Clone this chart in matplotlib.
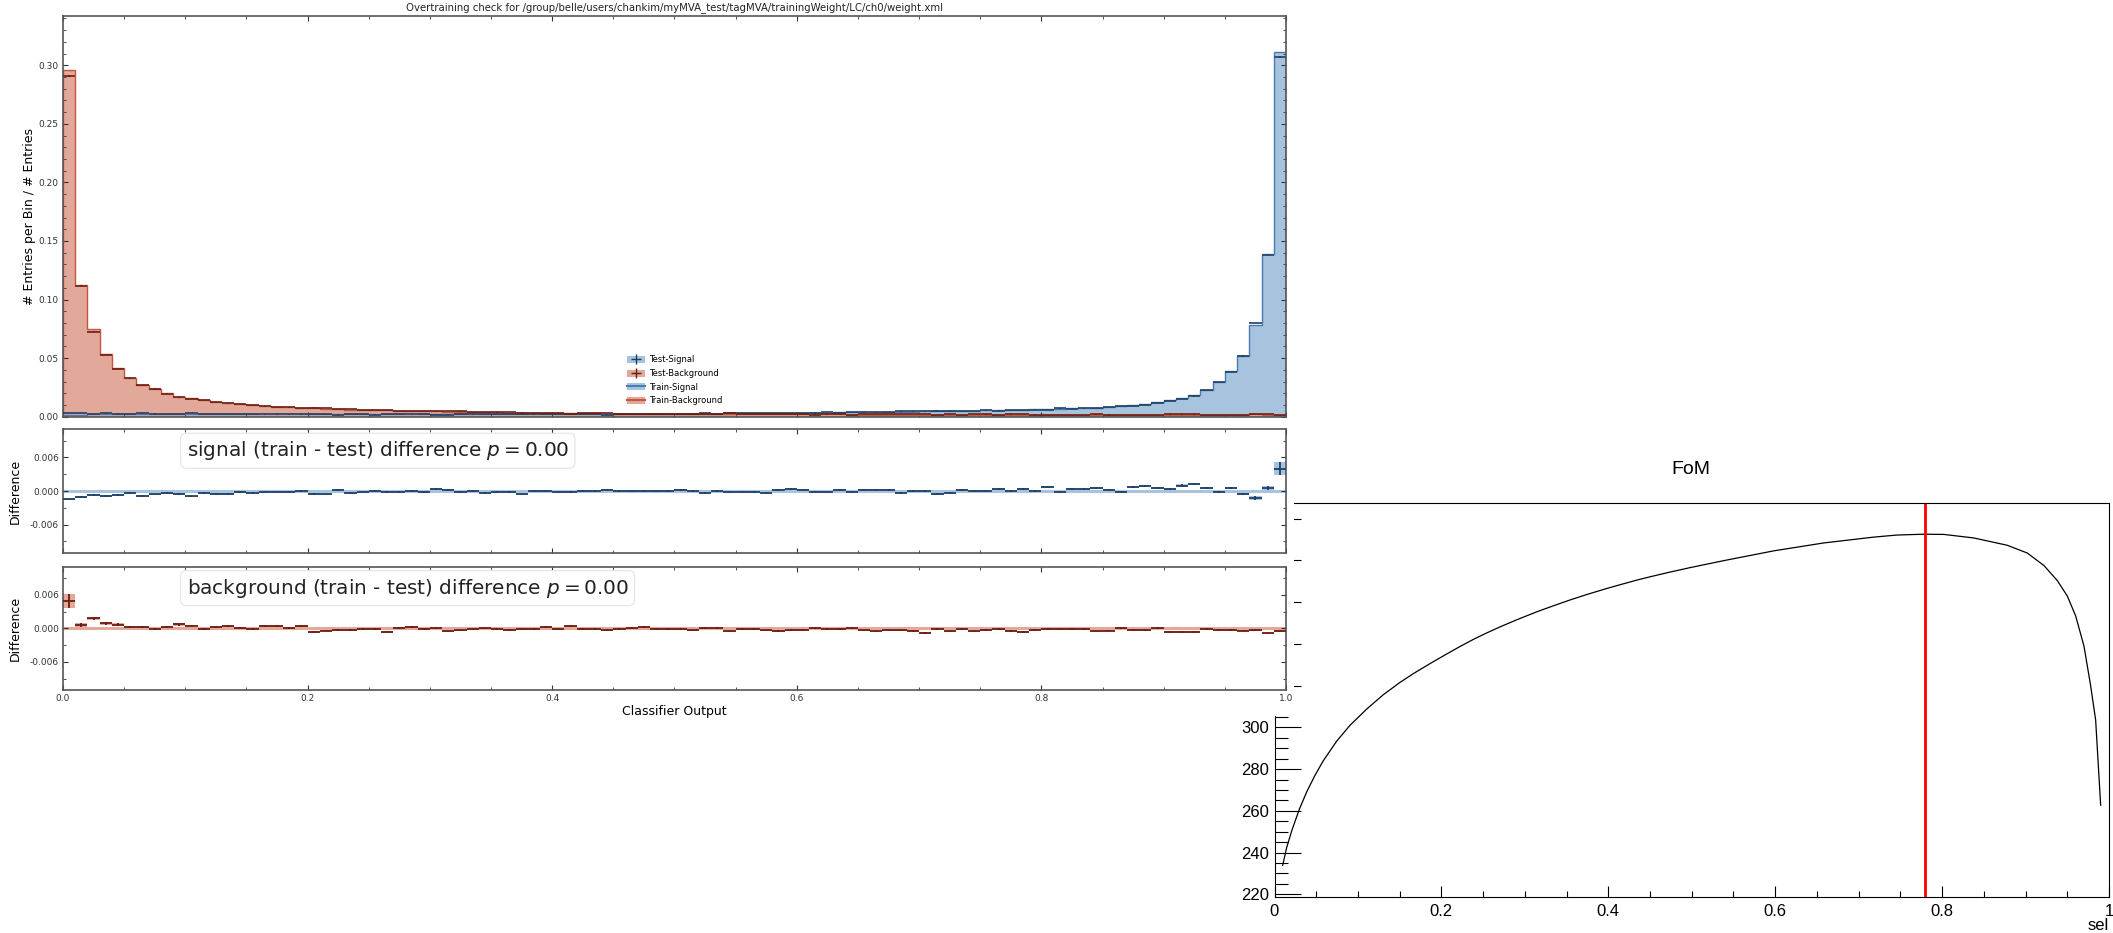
import numpy as np
import matplotlib
matplotlib.use("Agg")
import matplotlib.pyplot as plt
from matplotlib.patches import Rectangle, Patch
from matplotlib.lines import Line2D
from matplotlib.ticker import MultipleLocator, FormatStrFormatter, FuncFormatter

# ---- overtraining check data (100 bins on [0, 1]) ----
n_bins = 100
sig_train = [0.0018, 0.0018, 0.0019, 0.0020, 0.0020, 0.0019, 0.0020, 0.0020, 0.0019, 0.0019,
             0.0020, 0.0020, 0.0020, 0.0020, 0.0019, 0.0019, 0.0019, 0.0019, 0.0019, 0.0019,
             0.0020, 0.0019, 0.0019, 0.0019, 0.0019, 0.0019, 0.0019, 0.0019, 0.0020, 0.0019,
             0.0019, 0.0019, 0.0019, 0.0019, 0.0019, 0.0019, 0.0019, 0.0020, 0.0020, 0.0020,
             0.0020, 0.0020, 0.0021, 0.0021, 0.0021, 0.0022, 0.0022, 0.0023, 0.0023, 0.0024,
             0.0025, 0.0025, 0.0026, 0.0027, 0.0027, 0.0029, 0.0029, 0.0030, 0.0031, 0.0032,
             0.0033, 0.0034, 0.0035, 0.0036, 0.0037, 0.0038, 0.0039, 0.0040, 0.0042, 0.0044,
             0.0046, 0.0047, 0.0049, 0.0050, 0.0052, 0.0054, 0.0056, 0.0058, 0.0060, 0.0062,
             0.0065, 0.0068, 0.0071, 0.0074, 0.0078, 0.0083, 0.0088, 0.0097, 0.0109, 0.0122,
             0.0140, 0.0161, 0.0186, 0.0232, 0.0293, 0.0386, 0.0515, 0.0787, 0.1388, 0.3110]
bkg_train = [0.2957, 0.1126, 0.0745, 0.0536, 0.0415, 0.0330, 0.0272, 0.0238, 0.0200, 0.0172,
             0.0158, 0.0143, 0.0129, 0.0117, 0.0107, 0.0099, 0.0092, 0.0086, 0.0081, 0.0077,
             0.0072, 0.0068, 0.0065, 0.0061, 0.0058, 0.0056, 0.0053, 0.0051, 0.0049, 0.0047,
             0.0045, 0.0043, 0.0041, 0.0039, 0.0038, 0.0036, 0.0035, 0.0034, 0.0032, 0.0031,
             0.0030, 0.0029, 0.0029, 0.0028, 0.0027, 0.0026, 0.0026, 0.0025, 0.0025, 0.0024,
             0.0024, 0.0023, 0.0023, 0.0022, 0.0022, 0.0021, 0.0021, 0.0021, 0.0020, 0.0020,
             0.0020, 0.0019, 0.0019, 0.0019, 0.0018, 0.0018, 0.0018, 0.0018, 0.0017, 0.0017,
             0.0017, 0.0016, 0.0016, 0.0016, 0.0016, 0.0016, 0.0015, 0.0015, 0.0015, 0.0015,
             0.0015, 0.0014, 0.0014, 0.0014, 0.0014, 0.0014, 0.0014, 0.0013, 0.0013, 0.0013,
             0.0013, 0.0013, 0.0013, 0.0012, 0.0012, 0.0012, 0.0013, 0.0021, 0.0012, 0.0012]

# train - test differences and their uncertainties
sig_diff = [-0.0015, -0.0011, -0.00066, -0.00084, -0.00066, -0.00036, -0.00084, -0.0006, -0.00036, -0.0005,
            -0.00096, -0.00036, -0.0005, -0.0005, -0.00018, -0.00036, -0.0001, -0.0001, -0.0001, -0.00006,
            -0.0005, -0.0006, 0.00012, -0.00036, -0.00024, 0.00006, -0.00018, -0.00018, 0.00006, -0.00018,
            0.0003, 0.00012, -0.00018, -0.00006, -0.0003, -0.00018, -0.00018, -0.0006, 0.00006, -0.00006,
            -0.00024, -0.00018, 0.00006, 0.00006, 0.00024, 0.00006, -0.00006, -0.00006, 0.0, 0.00006,
            0.0002, 0.00006, -0.0003, 0.00006, -0.00024, -0.0001, -0.00018, -0.00036, 0.00018, 0.00036,
            0.00024, -0.0001, -0.00024, 0.0002, -0.0001, 0.0002, 0.0002, 0.0002, -0.00036, -0.00006,
            0.00006, -0.0005, -0.0003, 0.0002, 0.00006, 0.00006, 0.00036, 0.0, 0.00036, 0.00006,
            0.00066, -0.00024, 0.00036, 0.00036, 0.00054, 0.00012, -0.00024, 0.00066, 0.0009, 0.0005,
            0.00042, 0.00096, 0.0012, 0.0006, -0.00018, 0.0005, -0.00054, -0.00126, 0.00054, 0.0040]
bkg_diff = [0.0049, 0.0006, 0.0018, 0.0009, 0.00066, 0.00024, 0.00024, -0.0001, 0.00024, 0.0007,
            0.0005, -0.0001, 0.00024, 0.00036, 0.00006, -0.0001, 0.0004, 0.00036, 0.00012, 0.0004,
            -0.0006, -0.0004, -0.0003, -0.0003, -0.0001, -0.0001, -0.00066, 0.00012, 0.00024, -0.00006,
            0.00006, -0.00054, -0.00036, -0.00006, 0.0, -0.0001, -0.00024, -0.00018, -0.0001, 0.00024,
            -0.00018, 0.0004, -0.00006, -0.0001, -0.00024, -0.0001, 0.00006, 0.00024, -0.0001, -0.00006,
            -0.00006, -0.00036, 0.00006, 0.00006, -0.00054, -0.00006, -0.00006, -0.00036, -0.0005, -0.0003,
            -0.0003, 0.00012, -0.0001, -0.0001, 0.00012, -0.00036, -0.00054, -0.00036, -0.00036, -0.0005,
            -0.0008, -0.00006, -0.00054, -0.00006, -0.00054, -0.0003, -0.00006, -0.0005, -0.00066, -0.0003,
            -0.0001, -0.00018, -0.0001, -0.0001, -0.00054, -0.0004, 0.00006, -0.0003, -0.0003, 0.00006,
            -0.0007, -0.0006, -0.0006, -0.0001, -0.00024, -0.0003, -0.0004, -0.0003, -0.0009, -0.0005]
sig_err = [0.00015] * 90 + [0.0002, 0.0002, 0.0002, 0.0002, 0.0002, 0.0002, 0.00025, 0.0003, 0.0004, 0.0012]
bkg_err = [0.0012, 0.0004, 0.0003, 0.00025, 0.00025, 0.00025, 0.00025, 0.00025, 0.00025, 0.00025] + [0.00015] * 90

# ---- FoM scan ----
fom_x = [0.0098, 0.0146, 0.0206, 0.0298, 0.0386, 0.0486, 0.0586, 0.0745, 0.0905, 0.1105,
         0.1305, 0.1505, 0.1665, 0.1865, 0.2064, 0.2224, 0.2384, 0.2544, 0.2704, 0.2904,
         0.3143, 0.3343, 0.3543, 0.3743, 0.3983, 0.4143, 0.4342, 0.4502, 0.4702, 0.4982,
         0.538, 0.598, 0.658, 0.718, 0.746, 0.778, 0.802, 0.838, 0.878, 0.902,
         0.922, 0.938, 0.950, 0.960, 0.970, 0.978, 0.984, 0.990]
fom_y = [233.9, 242.4, 250.4, 260.8, 269.1, 277.1, 284.1, 293.4, 301.0, 308.8,
         315.7, 321.6, 325.8, 330.6, 335.2, 338.8, 342.2, 345.3, 348.2, 351.6,
         355.4, 358.3, 361.1, 363.7, 366.6, 368.4, 370.6, 372.2, 374.1, 376.6,
         379.9, 384.6, 388.4, 391.2, 392.2, 392.6, 392.5, 390.8, 387.3, 383.6,
         377.6, 370.4, 363.0, 353.5, 339.0, 320.0, 303.5, 262.7]
best_cut = 0.78

title = "Overtraining check for /group/belle/users/chankim/myMVA_test/tagMVA/trainingWeight/LC/ch0/weight.xml"

SIG_FILL, SIG_LINE, SIG_DARK = "#a7c3de", "#4a7bb0", "#1f3f66"
BKG_FILL, BKG_LINE, BKG_DARK = "#e2a89a", "#c8553d", "#6b1d10"

W, H = 2113, 933
fig = plt.figure(figsize=(W / 100, H / 100), dpi=100)


def box(l, t, r, b):
    return [l / W, 1 - b / H, (r - l) / W, (b - t) / H]


edges = np.linspace(0, 1, n_bins + 1)
centers = 0.5 * (edges[1:] + edges[:-1])
width = edges[1] - edges[0]

# ================= ROOT style FoM plot (underneath) =================
rax = fig.add_axes(box(1274.5, 502.7, 2109, 897), zorder=0)
rax.plot(fom_x, fom_y, color="black", lw=0.9)
rax.axvline(best_cut, color="red", lw=2)
rax.set_xlim(0, 1)
rax.set_ylim(218.7, 407.7)
rax.xaxis.set_major_locator(MultipleLocator(0.2))
rax.xaxis.set_minor_locator(MultipleLocator(0.05))
rax.yaxis.set_major_locator(MultipleLocator(20))
rax.yaxis.set_minor_locator(MultipleLocator(5))
rax.xaxis.set_major_formatter(FuncFormatter(lambda v, p: "%g" % round(v, 3)))
rax.tick_params(which="both", direction="in", width=0.8, color="black",
                labelsize=12, top=False, right=False)
rax.tick_params(axis="x", which="major", length=8, pad=5)
rax.tick_params(axis="x", which="minor", length=4.3)
rax.tick_params(axis="y", which="major", length=18.5, pad=4)
rax.tick_params(axis="y", which="minor", length=9.3)
for lab in rax.get_xticklabels() + rax.get_yticklabels():
    lab.set_family("Liberation Sans")
for s in rax.spines.values():
    s.set_linewidth(0.8)
fig.text(1691 / W, 1 - 470 / H, "FoM", ha="center", va="center",
         fontsize=14, family="Liberation Sans")
fig.text(2109 / W, 1 - 926 / H, "sel", ha="right", va="center",
         fontsize=12, family="Liberation Sans")

# white background of the overtraining figure pasted on top
fig.add_artist(Rectangle((0, 1 - 716 / H), 1294 / W, 716 / H, transform=fig.transFigure,
                         facecolor="white", edgecolor="none", zorder=1))

# ================= overtraining check =================
ax0 = fig.add_axes(box(63, 15.5, 1286, 416.7), zorder=2)
ax1 = fig.add_axes(box(63, 429.3, 1286, 552.7), zorder=2, sharex=ax0)
ax2 = fig.add_axes(box(63, 566.7, 1286, 690), zorder=2, sharex=ax0)

sig_test = np.array(sig_train) - np.array(sig_diff)
bkg_test = np.array(bkg_train) - np.array(bkg_diff)

# train as filled steps
ax0.stairs(sig_train, edges, fill=True, color=SIG_FILL, zorder=1)
ax0.stairs(bkg_train, edges, fill=True, color=BKG_FILL, zorder=1)
ax0.stairs(sig_train, edges, color=SIG_LINE, lw=1.0, zorder=2)
ax0.stairs(bkg_train, edges, color=BKG_LINE, lw=1.0, zorder=2)
# test as points with error boxes
for vals, err, light, dark in [(sig_test, sig_err, SIG_FILL, SIG_DARK),
                               (bkg_test, bkg_err, BKG_FILL, BKG_DARK)]:
    err = np.array(err)
    ax0.bar(centers, 2 * err, width=width, bottom=vals - err, color=light, lw=0, zorder=3)
    ax0.errorbar(centers, vals, xerr=width / 2, yerr=err, fmt="none",
                 ecolor=dark, elinewidth=1.2, zorder=4)

ax0.set_ylim(0, 0.3425)
ax0.set_xlim(0, 1)
ax0.yaxis.set_major_locator(MultipleLocator(0.05))
ax0.yaxis.set_minor_locator(MultipleLocator(0.01))
ax0.yaxis.set_major_formatter(FormatStrFormatter("%.2f"))
ax0.set_ylabel("# Entries per Bin / # Entries", fontsize=9)
ax0.yaxis.set_label_coords(-0.022, 0.5)
plt.setp(ax0.get_xticklabels(), visible=False)

handles = [
    (Patch(facecolor=SIG_FILL), Line2D([], [], color=SIG_DARK, marker="+", ms=7, lw=0)),
    (Patch(facecolor=BKG_FILL), Line2D([], [], color=BKG_DARK, marker="+", ms=7, lw=0)),
    (Patch(facecolor=SIG_FILL), Line2D([], [], color=SIG_LINE, lw=1.5)),
    (Patch(facecolor=BKG_FILL), Line2D([], [], color=BKG_LINE, lw=1.5)),
]
ax0.legend(handles, ["Test-Signal", "Test-Background", "Train-Signal", "Train-Background"],
           loc="lower center", bbox_to_anchor=(0.5, 0.01), frameon=False, fontsize=6,
           handlelength=2.2, handleheight=0.9, labelspacing=0.55, handletextpad=0.5)

# difference panels
for ax, diff, err, light, dark, name in [(ax1, sig_diff, sig_err, SIG_FILL, SIG_DARK, "signal"),
                                         (ax2, bkg_diff, bkg_err, BKG_FILL, BKG_DARK, "background")]:
    diff = np.array(diff)
    err = np.array(err)
    ax.axhline(0, color=light, lw=2.2, zorder=1)
    ax.bar(centers, 2 * err, width=width, bottom=diff - err, color=light, lw=0, zorder=2)
    ax.errorbar(centers, diff, xerr=width / 2, yerr=err, fmt="none",
                ecolor=dark, elinewidth=1.3, zorder=3)
    ax.set_ylim(-0.011, 0.011)
    ax.yaxis.set_major_locator(MultipleLocator(0.006))
    ax.yaxis.set_minor_locator(MultipleLocator(0.003))
    ax.yaxis.set_major_formatter(FormatStrFormatter("%.3f"))
    ax.set_ylabel("Difference", fontsize=9)
    ax.yaxis.set_label_coords(-0.0335, 0.5)
    ax.text(0.101, 0.826, name + " (train - test) difference $p = 0.00$",
            transform=ax.transAxes, fontsize=14.4, va="center", ha="left", color="#222222",
            bbox=dict(boxstyle="round,pad=0.3", facecolor="white", edgecolor="#e4e4e4", lw=0.8))
plt.setp(ax1.get_xticklabels(), visible=False)

ax2.xaxis.set_major_locator(MultipleLocator(0.2))
ax2.xaxis.set_minor_locator(MultipleLocator(0.05))
ax2.xaxis.set_major_formatter(FormatStrFormatter("%.1f"))
ax2.set_xlabel("Classifier Output", fontsize=9)
ax2.xaxis.set_label_coords(0.5, -0.125)

for ax in (ax0, ax1, ax2):
    ax.tick_params(which="both", direction="in", top=True, right=True,
                   labelsize=6.5, colors="#333333", pad=3)
    ax.tick_params(which="major", length=3.5, width=0.8)
    ax.tick_params(which="minor", length=2, width=0.6)
    for s in ax.spines.values():
        s.set_color("#555555")
        s.set_linewidth(1.2)

fig.text(674.5 / W, 1 - 7.5 / H, title, ha="center", va="center", fontsize=7.3, color="#222222")

fig.savefig("out.png", dpi=100)
